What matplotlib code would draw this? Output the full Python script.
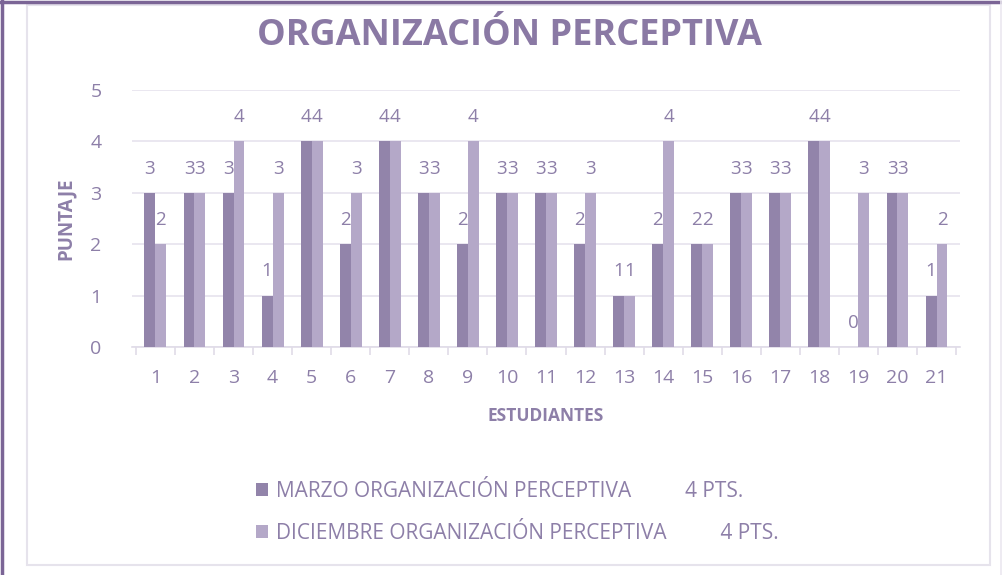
import matplotlib.pyplot as plt
import numpy as np
from matplotlib.patches import Rectangle
from matplotlib.lines import Line2D

estudiantes = [str(i) for i in range(1, 22)]
marzo = [3, 3, 3, 1, 4, 2, 4, 3, 2, 3, 3, 2, 1, 2, 2, 3, 3, 4, 0, 3, 1]
diciembre = [2, 3, 4, 3, 4, 3, 4, 3, 4, 3, 3, 3, 1, 4, 2, 3, 3, 4, 3, 3, 2]
serie_labels = ["MARZO ORGANIZACIÓN PERCEPTIVA          4 PTS.",
                "DICIEMBRE ORGANIZACIÓN PERCEPTIVA          4 PTS."]
titulo = "ORGANIZACIÓN PERCEPTIVA"

plt.rcParams['font.family'] = ['Open Sans', 'DejaVu Sans']
txt = '#8d7fa8'
c_mar = '#9284aa'
c_dic = '#b4a8c8'

W, H = 1003, 575
fig = plt.figure(figsize=(10.03, 5.75), dpi=100)
# outer purple frame lines (top and left)
fig.add_artist(Line2D([0, 1], [1 - 2/H, 1 - 2/H], transform=fig.transFigure, color='#7b6596', lw=2.5))
fig.add_artist(Line2D([2/W, 2/W], [0, 1], transform=fig.transFigure, color='#7b6596', lw=2.5))
fig.add_artist(Line2D([1001/W, 1001/W], [0, 1], transform=fig.transFigure, color='#ebe8f0', lw=1.2))
# inner light box
fig.patches.append(Rectangle((27/W, 1 - 565/H), (990 - 27)/W, (565 - 5)/H, transform=fig.transFigure,
                             fill=False, ec='#e6e3ec', lw=1.5))

ax = fig.add_axes([0.1316, 0.3965, 0.8255, 0.447])
x = np.arange(len(estudiantes))
w = 0.28
b1 = ax.bar(x - w/2, marzo, w, color=c_mar, label=serie_labels[0], zorder=3)
b2 = ax.bar(x + w/2, diciembre, w, color=c_dic, label=serie_labels[1], zorder=3)

for xi, v in zip(x - w/2, marzo):
    ax.text(xi, v + 0.47, str(v), ha='center', va='center', color=txt, fontsize=13.5, zorder=4)
for xi, v in zip(x + w/2, diciembre):
    ax.text(xi, v + 0.47, str(v), ha='center', va='center', color=txt, fontsize=13.5, zorder=4)

ax.set_xlim(-0.6, len(x) - 0.4)
ax.set_ylim(0, 5)
ax.set_yticks(range(0, 6))
ax.grid(axis='y', color='#e6e3ee', lw=1.2, zorder=0)
for s in ['top', 'right', 'left']:
    ax.spines[s].set_visible(False)
ax.spines['bottom'].set_color('#e0dce8')
ax.spines['bottom'].set_linewidth(1.2)
ax.set_xticks(x)
ax.set_xticklabels(estudiantes, color=txt, fontsize=14)
ax.tick_params(axis='x', length=0, pad=16)
ax.set_xticks(np.arange(-0.5, len(x), 1), minor=True)
ax.tick_params(axis='x', which='minor', length=6, color='#e0dce8', width=1.2)
ax.tick_params(axis='y', length=0, labelcolor=txt, labelsize=14, pad=22)

ax.set_xlabel("ESTUDIANTES", color=txt, fontsize=12.5, fontweight='bold', labelpad=14)
ax.set_ylabel("PUNTAJE", color=txt, fontsize=13.5, fontweight='bold', labelpad=10)

fig.text(0.508, 0.938, titulo, ha='center', va='center', color='#8a79a4',
         fontsize=26, fontweight='bold')

leg = fig.legend(handles=[b1, b2], loc='upper left', bbox_to_anchor=(0.237, 0.196),
                 frameon=False, fontsize=15, labelcolor=txt, handlelength=0.55,
                 handleheight=0.55, handletextpad=0.4, labelspacing=1.0)

fig.savefig('out.png', dpi=100)
